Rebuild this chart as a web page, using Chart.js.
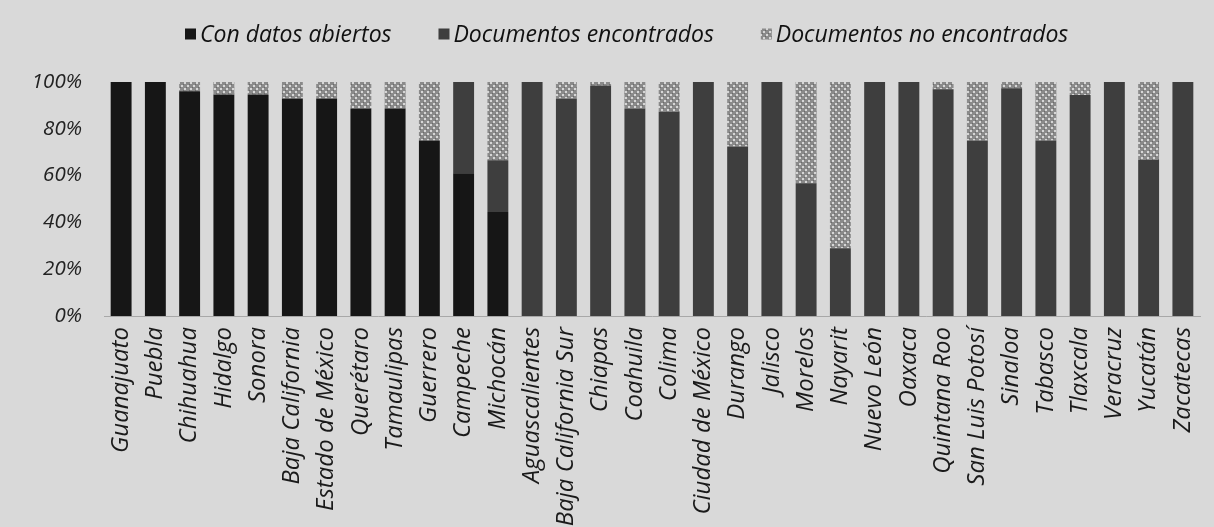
<!DOCTYPE html>
<html>
<head>
<meta charset="utf-8">
<script src="https://cdn.jsdelivr.net/npm/chart.js@4/dist/chart.umd.min.js"></script>
<style>
html,body{margin:0;padding:0;background:#d9d9d9;}
#wrap{width:1214px;height:527px;position:relative;}
</style>
</head>
<body>
<div id="wrap"><canvas id="c" width="1214" height="527"></canvas></div>
<script>
const categories = ["Guanajuato","Puebla","Chihuahua","Hidalgo","Sonora","Baja California","Estado de México","Querétaro","Tamaulipas","Guerrero","Campeche","Michocán","Aguascalientes","Baja California Sur","Chiapas","Coahuila","Colima","Ciudad de México","Durango","Jalisco","Morelos","Nayarit","Nuevo León","Oaxaca","Quintana Roo","San Luis Potosí","Sinaloa","Tabasco","Tlaxcala","Veracruz","Yucatán","Zacatecas"];
const conDatosAbiertos = [100,100,96,94.7,94.7,93,93,88.7,88.7,75,61,44.4,0,0,0,0,0,0,0,0,0,0,0,0,0,0,0,0,0,0,0,0];
const documentosEncontrados = [0,0,0,0,0,0,0,0,0,0,39,22.2,100,93,98.5,88.7,87.3,100,72.4,100,56.7,28.9,100,100,96.9,75,97.3,75,94.4,100,66.7,100];
const documentosNoEncontrados = [0,0,4,5.3,5.3,7,7,11.3,11.3,25,0,33.4,0,7,1.5,11.3,12.7,0,27.6,0,43.3,71.1,0,0,3.1,25,2.7,25,5.6,0,33.3,0];
const seriesNames = ["Con datos abiertos","Documentos encontrados","Documentos no encontrados"];
const yTicks = [0,20,40,60,80,100];

function makePattern(){
  const p = document.createElement('canvas');
  p.width = 6; p.height = 6;
  const g = p.getContext('2d');
  g.fillStyle = '#8a8a8a'; g.fillRect(0,0,6,6);
  g.fillStyle = '#d6d6d6';
  g.fillRect(1,1,2,2); g.fillRect(4,4,2,2);
  g.fillStyle = '#6a6a6a';
  g.fillRect(0,3,1,1); g.fillRect(3,0,1,1);
  return document.getElementById('c').getContext('2d').createPattern(p,'repeat');
}
const hatch = makePattern();
const FONT = "'Open Sans'";

// simple legend drawn from the chart's own datasets
const legendPlugin = {
  id: 'customLegend',
  afterDraw(chart, args, opts) {
    const ctx = chart.ctx;
    ctx.save();
    ctx.font = `italic ${opts.size}px ${FONT}`;
    ctx.textBaseline = 'middle';
    ctx.textAlign = 'left';
    let x = opts.startX;
    const y = opts.y;
    chart.data.datasets.forEach(ds => {
      ctx.fillStyle = ds.backgroundColor;
      ctx.fillRect(x, y - opts.box / 2, opts.box, opts.box);
      x += opts.box + opts.textGap;
      ctx.fillStyle = '#111';
      ctx.fillText(ds.label, x, y + 1);
      x += ctx.measureText(ds.label).width + opts.itemGap;
    });
    ctx.restore();
  }
};

new Chart(document.getElementById('c'), {
  type: 'bar',
  data: {
    labels: categories,
    datasets: [
      {label: seriesNames[0], data: conDatosAbiertos, backgroundColor: '#161616'},
      {label: seriesNames[1], data: documentosEncontrados, backgroundColor: '#3e3e3e'},
      {label: seriesNames[2], data: documentosNoEncontrados, backgroundColor: hatch}
    ]
  },
  plugins: [legendPlugin],
  options: {
    responsive: false,
    animation: false,
    layout: {padding: {left: 0, right: 14, top: 82, bottom: 0}},
    datasets: {bar: {barPercentage: 0.61, categoryPercentage: 1}},
    plugins: {
      tooltip: {enabled: false},
      legend: {display: false},
      customLegend: {startX: 185, y: 34, size: 23, box: 11, textGap: 4, itemGap: 47}
    },
    scales: {
      x: {
        stacked: true,
        grid: {display: false, drawTicks: false},
        border: {display: true, color: '#a8a8a8', width: 1},
        afterFit: s => { s.height = 211; s.paddingLeft = 0; s.paddingRight = 0; },
        ticks: {
          minRotation: 90, maxRotation: 90, autoSkip: false, padding: 11,
          color: '#1a1a1a',
          font: {family: FONT, size: 24, style: 'italic'}
        }
      },
      y: {
        stacked: true,
        min: 0, max: 100,
        afterBuildTicks: s => { s.ticks = yTicks.map(v => ({value: v})); },
        afterFit: s => { s.width = 104; s.paddingTop = 0; s.paddingBottom = 0; },
        grid: {display: false, drawTicks: false},
        border: {display: false},
        ticks: {
          padding: 22,
          color: '#222',
          font: {family: FONT, size: 20.5, style: 'italic'},
          callback: v => v + '%'
        }
      }
    }
  }
});
</script>
</body>
</html>
